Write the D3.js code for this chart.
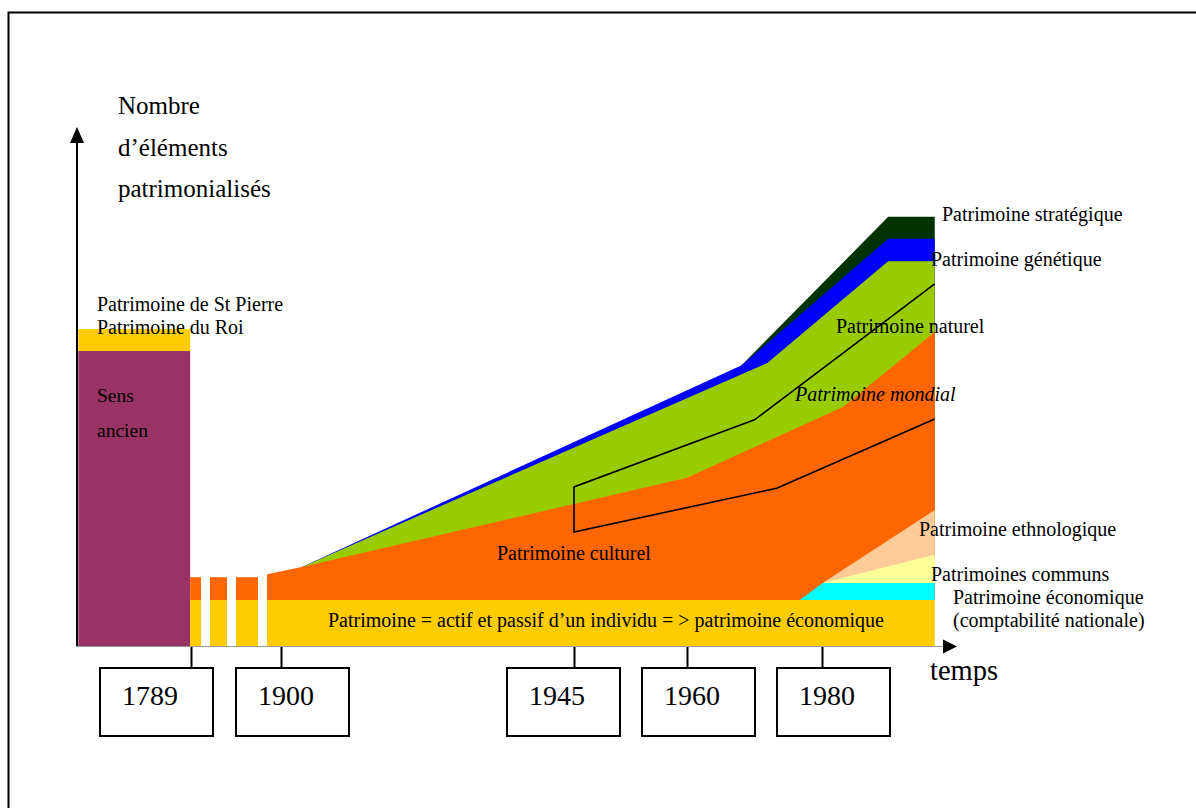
<!DOCTYPE html>
<html><head><meta charset="utf-8">
<script src="https://cdn.jsdelivr.net/npm/d3@7"></script>
<style>
body{margin:0;background:#fff}
svg{display:block}
text{font-family:"Liberation Serif","Times New Roman",serif;fill:#000}
</style>
</head><body>
<svg id="c" width="1196" height="808"></svg>
<script>
// ---------------- DATA ----------------
const tickYears = [1789, 1900, 1945, 1960, 1980];
const tickLabels = ["1789", "1900", "1945", "1960", "1980"];

// "Sens ancien" block (before 1789)
const sensAncienYears = [1650, 1788];
const sensAncienValue = 68.6;
const royalValue = 73.7;               // Patrimoine de St Pierre / du Roi

// dashed transition (1789 -> 1900)
const hatchYears = [[1788, 1801.3], [1812.4, 1833.4], [1844.5, 1871.6]];
const hatchCulturel = 16.0;

// economic patrimony band
const ecoYears = [1882.7, 1996.7];
const ecoValue = 10.7;

// stacked series [year, top value]
const culturel    = [[1882.7, 16.7], [1903.2, 18.4], [1960, 39.1], [1983.1, 55.6], [1996.7, 73.0]];
const naturel     = [[1903.2, 18.4], [1971.9, 65.8], [1989.8, 89.5], [1996.7, 89.5]];
const genetique   = [[1903.2, 18.4], [1968.1, 65.3], [1989.8, 94.7], [1996.7, 94.7]];
const strategique = [[1968.1, 65.3], [1989.8, 99.8], [1996.7, 99.8]];

// lower-right series
const comptaNat    = [[1976.7, 10.7], [1980.1, 14.65], [1996.7, 14.65]];
const communs      = [[1980.1, 14.65], [1996.7, 21.2]];
const ethnologique = [[1980.1, 14.65], [1996.7, 31.6]];
const lowerBase = 14.65;

// "Patrimoine mondial" outline
const mondial = [[1996.7, 84.2], [1970, 52.6], [1945, 37.0], [1945, 26.5], [1973.3, 36.7], [1996.7, 52.8]];

// ---------------- LAYOUT ----------------
const svg = d3.select("#c");
const x = d3.scaleLinear().domain(tickYears).range([191, 281, 574, 687, 822]);
const y = d3.scaleLinear().domain([0, 120]).range([646, 130]);
const baseY = y(0);

const colors = {
  purple: "#993366", gold: "#FFCC00", orange: "#FF6600", green: "#99CC00",
  blue: "#0000FF", dark: "#003300", cyan: "#00FFFF", lightYellow: "#FFFF99", peach: "#FFCC99"
};

// outer frame
svg.append("path").attr("d", "M8.5,808 V12.5 H1196").attr("fill", "none").attr("stroke", "#000").attr("stroke-width", 2);

// Sens ancien block
svg.append("rect")
  .attr("x", x(sensAncienYears[0])).attr("width", x(sensAncienYears[1]) - x(sensAncienYears[0]))
  .attr("y", y(royalValue)).attr("height", y(sensAncienValue) - y(royalValue))
  .attr("fill", colors.gold);
svg.append("rect")
  .attr("x", x(sensAncienYears[0])).attr("width", x(sensAncienYears[1]) - x(sensAncienYears[0]))
  .attr("y", y(sensAncienValue)).attr("height", baseY - y(sensAncienValue))
  .attr("fill", colors.purple);

// hatch strips
const hatch = svg.append("g");
hatchYears.forEach(([a, b]) => {
  hatch.append("rect").attr("x", x(a)).attr("width", x(b) - x(a))
    .attr("y", y(ecoValue)).attr("height", baseY - y(ecoValue)).attr("fill", colors.gold);
  hatch.append("rect").attr("x", x(a)).attr("width", x(b) - x(a))
    .attr("y", y(hatchCulturel)).attr("height", y(ecoValue) - y(hatchCulturel)).attr("fill", colors.orange);
});

// stacked areas (painter's order)
const area = (base) => d3.area().x(d => x(d[0])).y0(y(base)).y1(d => y(d[1]));
svg.append("path").datum(strategique).attr("d", area(ecoValue)).attr("fill", colors.dark);
svg.append("path").datum(genetique).attr("d", area(ecoValue)).attr("fill", colors.blue);
svg.append("path").datum(naturel).attr("d", area(ecoValue)).attr("fill", colors.green);
svg.append("path").datum(culturel).attr("d", area(ecoValue)).attr("fill", colors.orange);
svg.append("path").datum(ethnologique).attr("d", area(lowerBase)).attr("fill", colors.peach);
svg.append("path").datum(communs).attr("d", area(lowerBase)).attr("fill", colors.lightYellow);
svg.append("path").datum(comptaNat).attr("d", area(ecoValue)).attr("fill", colors.cyan);

// economic band
svg.append("rect").attr("x", x(ecoYears[0])).attr("width", x(ecoYears[1]) - x(ecoYears[0]))
  .attr("y", y(ecoValue)).attr("height", baseY - y(ecoValue)).attr("fill", colors.gold);

// mondial outline
svg.append("path").datum(mondial)
  .attr("d", d3.line().x(d => x(d[0])).y(d => y(d[1])))
  .attr("fill", "none").attr("stroke", "#000").attr("stroke-width", 1.6);

// axes
svg.append("line").attr("x1", 77).attr("x2", 77).attr("y1", baseY + 1).attr("y2", 140)
  .attr("stroke", "#000").attr("stroke-width", 2);
svg.append("path").attr("d", "M77,127 L70,143 L84,143 Z").attr("fill", "#000");
svg.append("line").attr("x1", 76).attr("x2", 944).attr("y1", baseY + 0.5).attr("y2", baseY + 0.5)
  .attr("stroke", "#999").attr("stroke-width", 1.2);
svg.append("path").attr("d", `M957,${baseY + 0.5} L943,${baseY - 6.5} L943,${baseY + 7.5} Z`).attr("fill", "#000");

// ticks and year boxes
const boxOffset = [-91, -45, -67, -45, -45];
const ticks = svg.append("g");
tickYears.forEach((yr, i) => {
  const tx = Math.round(x(yr)) + 0.5;
  ticks.append("line").attr("x1", tx).attr("x2", tx).attr("y1", baseY + 1).attr("y2", 668)
    .attr("stroke", "#000").attr("stroke-width", 2);
  const bx = Math.round(x(yr)) + boxOffset[i];
  ticks.append("rect").attr("x", bx).attr("y", 668).attr("width", 113).attr("height", 68)
    .attr("fill", "#fff").attr("stroke", "#000").attr("stroke-width", 2);
  ticks.append("text").attr("x", bx + 22).attr("y", 705).attr("font-size", 28).text(tickLabels[i]);
});

// labels
const labels = [
  ["Nombre", 118, 114, 25, false],
  ["d’éléments", 118, 156, 25, false],
  ["patrimonialisés", 118, 197, 25, false],
  ["Patrimoine de St Pierre", 97, 311, 20, false],
  ["Patrimoine du Roi", 97, 334, 20, false],
  ["Sens", 97, 402, 19.5, false],
  ["ancien", 97, 437, 19.5, false],
  ["Patrimoine stratégique", 942, 221, 20, false],
  ["Patrimoine génétique", 931, 266, 20, false],
  ["Patrimoine naturel", 836, 333, 20, false],
  ["Patrimoine mondial", 795, 401, 20, true],
  ["Patrimoine culturel", 497, 560, 20, false],
  ["Patrimoine ethnologique", 919, 536, 20, false],
  ["Patrimoines communs", 931, 581, 20, false],
  ["Patrimoine économique", 953, 604, 20, false],
  ["(comptabilité nationale)", 953, 627, 20, false],
  ["Patrimoine = actif et passif d’un individu = > patrimoine économique", 328, 627, 20, false],
  ["temps", 930, 680, 28.5, false]
];
svg.append("g").selectAll("text").data(labels).join("text")
  .attr("x", d => d[1]).attr("y", d => d[2]).attr("font-size", d => d[3])
  .attr("font-style", d => d[4] ? "italic" : "normal")
  .text(d => d[0]);
</script>
</body></html>
